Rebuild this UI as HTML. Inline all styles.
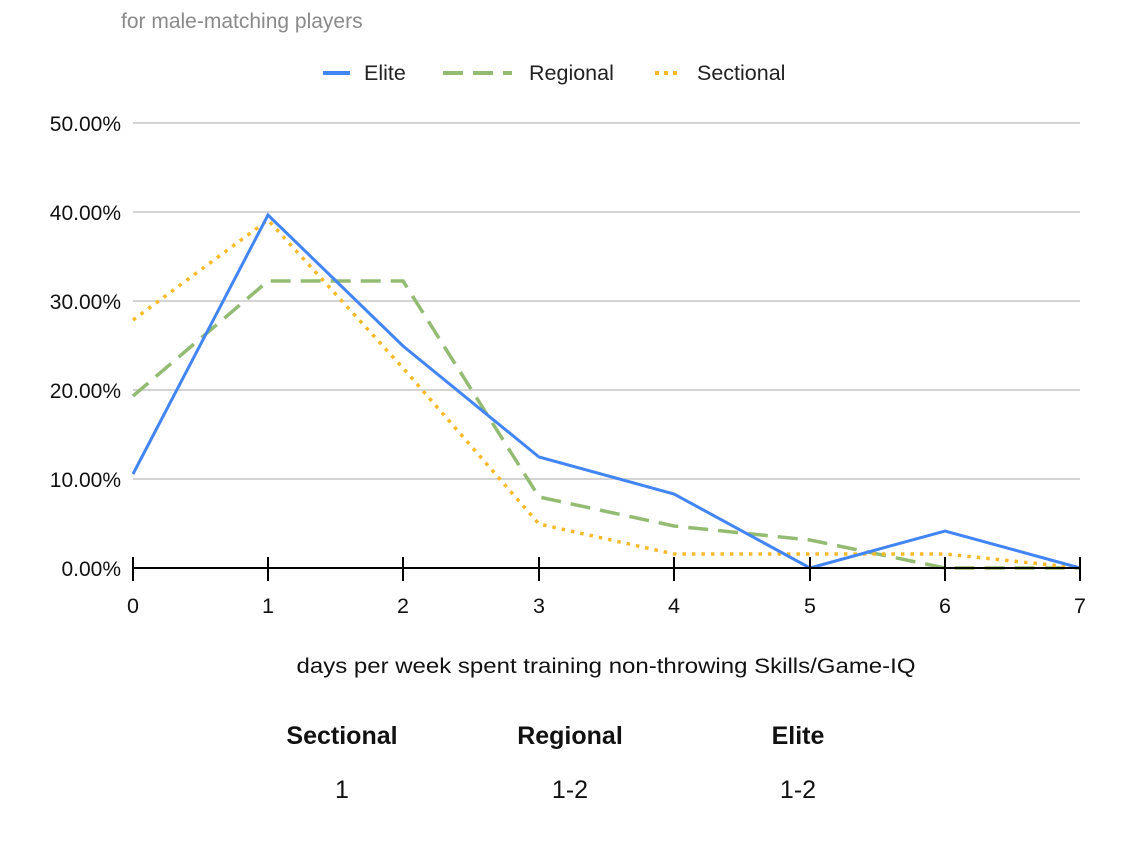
<!DOCTYPE html>
<html><head><style>body{margin:0;background:#fff;}svg text{font-family:"Liberation Sans",Arial,sans-serif;}</style></head>
<body>
<svg width="1126" height="836" xmlns="http://www.w3.org/2000/svg">
<text x="121" y="28" font-size="21" fill="#8a8a8a">for male-matching players</text>
<line x1="323" y1="73" x2="350" y2="73" stroke="#4285f4" stroke-width="4"/>
<text x="364" y="80" font-size="21.5" fill="#222">Elite</text>
<line x1="443" y1="73" x2="512" y2="73" stroke="#93bb72" stroke-width="4" stroke-dasharray="20,10"/>
<text x="529" y="80" font-size="21.5" fill="#222">Regional</text>
<line x1="655" y1="73" x2="682" y2="73" stroke="#f9b928" stroke-width="4" stroke-dasharray="4,5"/>
<text x="697" y="80" font-size="21.5" fill="#222">Sectional</text>
<g stroke="#c6c6c6" stroke-width="1.5">
<line x1="133" y1="123" x2="1080" y2="123"/>
<line x1="133" y1="212" x2="1080" y2="212"/>
<line x1="133" y1="301" x2="1080" y2="301"/>
<line x1="133" y1="390" x2="1080" y2="390"/>
<line x1="133" y1="479" x2="1080" y2="479"/>
</g>
<g font-size="21" fill="#111" text-anchor="end">
<text x="121" y="131">50.00%</text>
<text x="121" y="220">40.00%</text>
<text x="121" y="309">30.00%</text>
<text x="121" y="398">20.00%</text>
<text x="121" y="487">10.00%</text>
<text x="121" y="576">0.00%</text>
</g>
<polyline fill="none" stroke="#93bb72" stroke-width="3.5" stroke-dasharray="20,10" points="133,396 268,281 403,281 539,497 674,526 810,540 945,568 1080,568"/>
<polyline fill="none" stroke="#f9b928" stroke-width="3.5" stroke-dasharray="3.5,6" points="133,320 268,220 403,368 539,524 674,554 810,554 945,554 1080,568"/>
<polyline fill="none" stroke="#4285f4" stroke-width="3" points="133,474 268,215 403,346 539,457 674,494 810,568 945,531 1080,568"/>
<line x1="133" y1="568" x2="1080" y2="568" stroke="#000" stroke-width="2"/>
<g stroke="#000" stroke-width="2">
<line x1="133" y1="557" x2="133" y2="581"/><line x1="268" y1="557" x2="268" y2="581"/><line x1="403" y1="557" x2="403" y2="581"/><line x1="539" y1="557" x2="539" y2="581"/><line x1="674" y1="557" x2="674" y2="581"/><line x1="810" y1="557" x2="810" y2="581"/><line x1="945" y1="557" x2="945" y2="581"/><line x1="1080" y1="557" x2="1080" y2="581"/>
</g>
<g font-size="21.5" fill="#111" text-anchor="middle">
<text x="133" y="613">0</text><text x="268" y="613">1</text><text x="403" y="613">2</text><text x="539" y="613">3</text><text x="674" y="613">4</text><text x="810" y="613">5</text><text x="945" y="613">6</text><text x="1080" y="613">7</text>
</g>
<text x="606" y="673" font-size="21.5" fill="#111" text-anchor="middle" textLength="619" lengthAdjust="spacingAndGlyphs">days per week spent training non-throwing Skills/Game-IQ</text>
<g font-size="25" font-weight="bold" fill="#111" text-anchor="middle">
<text x="342" y="744">Sectional</text><text x="570" y="744">Regional</text><text x="798" y="744">Elite</text>
</g>
<g font-size="25" fill="#111" text-anchor="middle">
<text x="342" y="798">1</text><text x="570" y="798">1-2</text><text x="798" y="798">1-2</text>
</g>
</svg>
</body></html>
